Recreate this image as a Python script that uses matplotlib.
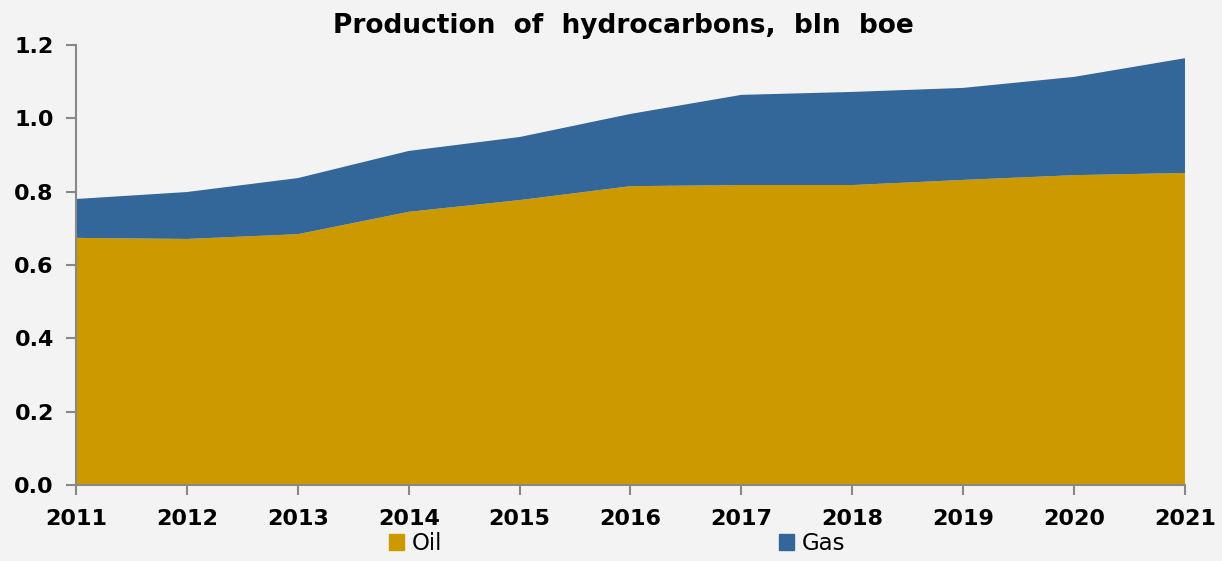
import matplotlib
matplotlib.use("Agg")
import matplotlib.pyplot as plt
from matplotlib.patches import Patch

years = [2011, 2012, 2013, 2014, 2015, 2016, 2017, 2018, 2019, 2020, 2021]
oil = [0.674, 0.671, 0.684, 0.745, 0.777, 0.815, 0.818, 0.818, 0.832, 0.845, 0.851]
gas = [0.106, 0.128, 0.153, 0.166, 0.172, 0.197, 0.246, 0.254, 0.251, 0.268, 0.313]
yticks = [0.0, 0.2, 0.4, 0.6, 0.8, 1.0, 1.2]

oil_col = "#CC9900"
gas_col = "#336699"

fig = plt.figure(figsize=(12.22, 5.61), dpi=100, facecolor="#f3f3f3")
ax = fig.add_axes([0.0622, 0.1355, 0.9075, 0.7843])
ax.set_facecolor("none")

ax.stackplot(years, oil, gas, colors=[oil_col, gas_col], linewidth=0)

ax.set_xlim(years[0], years[-1])
ax.set_ylim(0, 1.2)
ax.set_xticks(years)
ax.set_yticks(yticks)
ax.set_yticklabels([f"{v:.1f}" for v in yticks])

for s in ["top", "right"]:
    ax.spines[s].set_visible(False)
for s in ["left", "bottom"]:
    ax.spines[s].set_color("#888888")
    ax.spines[s].set_linewidth(1.5)
ax.tick_params(axis="both", colors="#888888", width=1.5, length=7,
               labelcolor="black", labelsize=16)
ax.tick_params(axis="x", pad=10)
ax.tick_params(axis="y", pad=9)
for lab in ax.get_xticklabels() + ax.get_yticklabels():
    lab.set_fontweight("bold")

fig.text(0.51, 0.953, "Production  of  hydrocarbons,  bln  boe", ha="center", va="center",
         fontsize=19, fontweight="bold")

handles = [Patch(color=oil_col, label="Oil"), Patch(color=gas_col, label="Gas")]
fig.legend(handles=handles, loc="center", bbox_to_anchor=(0.505, 0.031), ncol=2,
           frameon=False, fontsize=16.5, handlelength=0.65, handleheight=0.65,
           handletextpad=0.35, columnspacing=14.7)

fig.savefig("out.png", dpi=100, facecolor=fig.get_facecolor())
